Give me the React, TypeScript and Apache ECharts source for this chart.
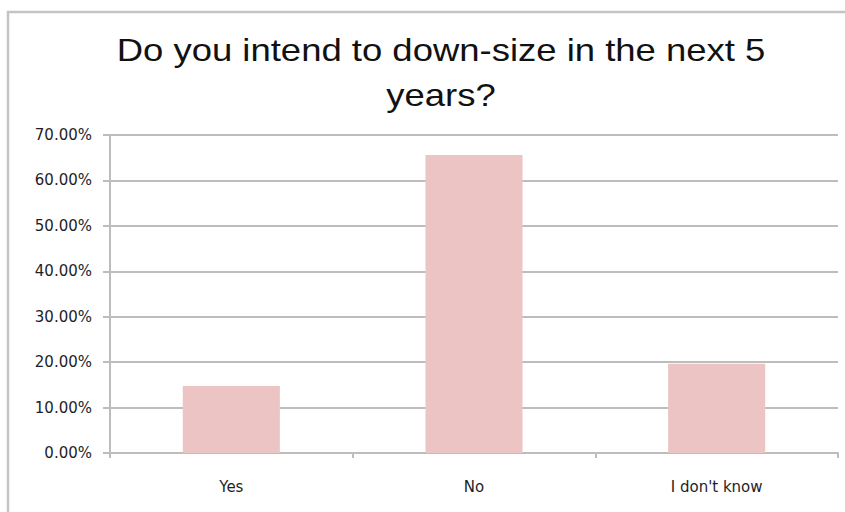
import React, { useEffect, useRef } from "react";
import * as echarts from "echarts";

const categories = ["Yes", "No", "I don't know"];
const values = [14.75, 65.57, 19.67];
const yTicks = [0, 10, 20, 30, 40, 50, 60, 70];
const titleLines = ["Do you intend to down-size in the next 5", "years?"];

export default function App() {
  const ref = useRef<HTMLDivElement>(null);
  useEffect(() => {
    if (!ref.current) return;
    const chart = echarts.init(ref.current, undefined, { renderer: "svg" });
    const gridColor = "#BDBDBD";
    const titleFont = "normal 32px 'Liberation Sans', Arial, sans-serif";
    chart.setOption({
      animation: false,
      backgroundColor: "#ffffff",
      graphic: [
        {
          type: "rect",
          shape: { x: 8, y: 12, width: 860, height: 520 },
          style: { fill: "none", stroke: "#C4C4C4", lineWidth: 2.5 },
          silent: true,
        },
        {
          type: "text",
          x: 441,
          y: 50,
          scaleX: 1.14,
          style: {
            text: titleLines[0],
            font: titleFont,
            fill: "#111111",
            textAlign: "center",
            textVerticalAlign: "middle",
          },
        },
        {
          type: "text",
          x: 441,
          y: 95,
          scaleX: 1.14,
          style: {
            text: titleLines[1],
            font: titleFont,
            fill: "#111111",
            textAlign: "center",
            textVerticalAlign: "middle",
          },
        },
      ],
      grid: { left: 110, right: 7, top: 135, bottom: 59, containLabel: false },
      xAxis: {
        type: "category",
        data: categories,
        boundaryGap: true,
        axisLine: { show: true, lineStyle: { color: gridColor, width: 2 } },
        axisTick: { show: true, length: 5, alignWithLabel: false, lineStyle: { color: gridColor, width: 2 } },
        axisLabel: {
          margin: 26,
          fontFamily: "DejaVu Sans, sans-serif",
          fontSize: 15,
          color: "#1e1e28",
        },
        splitLine: { show: false },
      },
      yAxis: {
        type: "value",
        min: 0,
        max: 70,
        interval: 10,
        axisLine: { show: true, lineStyle: { color: gridColor, width: 2 } },
        axisTick: { show: true, length: 7, lineStyle: { color: gridColor, width: 2 } },
        axisLabel: {
          margin: 18,
          fontFamily: "DejaVu Sans, sans-serif",
          fontSize: 15,
          color: "#1e1e28",
          formatter: (v: number) => (yTicks.includes(v) ? v.toFixed(2) + "%" : ""),
        },
        splitLine: { show: true, lineStyle: { color: gridColor, width: 2 } },
      },
      series: [
        {
          type: "bar",
          data: values,
          barWidth: "40%",
          itemStyle: { color: "#ECC4C4" },
        },
      ],
    });
    return () => chart.dispose();
  }, []);
  return (
    <div
      ref={ref}
      style={{ position: "fixed", left: 0, top: 0, width: 845, height: 512 }}
    />
  );
}
